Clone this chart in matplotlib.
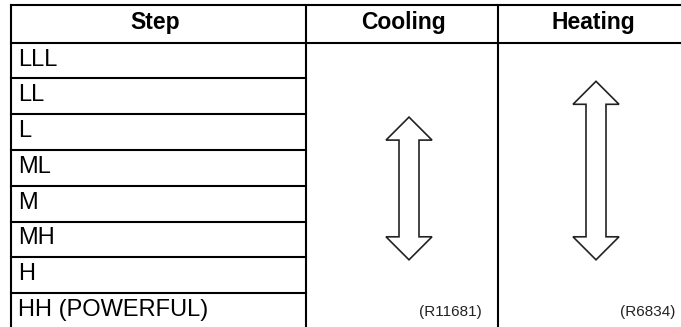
import matplotlib.pyplot as plt
from matplotlib.patches import Polygon

plt.rcParams["font.family"] = ["Liberation Sans", "DejaVu Sans"]

# Table content
headers = ["Step", "Cooling", "Heating"]
steps = ["LLL", "LL", "L", "ML", "M", "MH", "H", "HH (POWERFUL)"]
cooling_range = ("L", "MH")
heating_range = ("LL", "MH")
cooling_ref = "(R11681)"
heating_ref = "(R6834)"

# Layout (pixel space, y downwards)
W, H = 681, 327
col_x = [11, 306, 498, 683]
top_y = 5
head_y = 42.5
row_h = 35.8

fig = plt.figure(figsize=(W / 100, H / 100), dpi=100)
ax = fig.add_axes([0, 0, 1, 1])
ax.set_xlim(0, W)
ax.set_ylim(H, 0)
ax.axis("off")

lw = 1.5
bottom_y = head_y + row_h * len(steps)

# outer/header lines
ax.plot([col_x[0], col_x[-1]], [top_y, top_y], color="black", lw=lw)
ax.plot([col_x[0], col_x[-1]], [head_y, head_y], color="black", lw=lw)
for x in col_x:
    ax.plot([x, x], [top_y, bottom_y], color="black", lw=lw)

# row separators only in the Step column
for i in range(1, len(steps)):
    y = head_y + row_h * i
    ax.plot([col_x[0], col_x[1]], [y, y], color="black", lw=lw)

# header text
header_x = [155, 404, 593]
for hx, txt in zip(header_x, headers):
    ax.text(hx, 29.5, txt, fontsize=16.5, fontweight="bold",
            ha="center", va="baseline")

# step names
for i, s in enumerate(steps):
    ax.text(18.5, head_y + row_h * i + 23, s, fontsize=17,
            ha="left", va="baseline")


def double_arrow(xc, start, end, hw=23, hl=23, sw=10):
    y0 = head_y + row_h * steps.index(start) + 3
    y1 = head_y + row_h * (steps.index(end) + 1) + 2.5
    pts = [
        (xc, y0), (xc + hw, y0 + hl), (xc + sw, y0 + hl),
        (xc + sw, y1 - hl), (xc + hw, y1 - hl), (xc, y1),
        (xc - hw, y1 - hl), (xc - sw, y1 - hl), (xc - sw, y0 + hl),
        (xc - hw, y0 + hl),
    ]
    ax.add_patch(Polygon(pts, closed=True, facecolor="white",
                         edgecolor="#222222", lw=1.2, joinstyle="miter"))


double_arrow(409, *cooling_range)
double_arrow(596, *heating_range)

ax.text(450, 316, cooling_ref, fontsize=11, ha="center", va="baseline",
        color="#222222")
ax.text(648, 316, heating_ref, fontsize=11, ha="center", va="baseline",
        color="#222222")

fig.savefig("out.png", dpi=100)
